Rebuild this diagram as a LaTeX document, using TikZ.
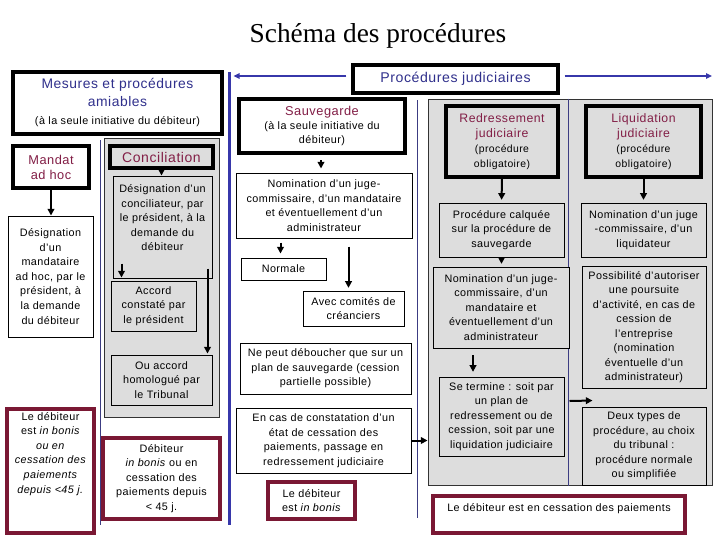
\documentclass[tikz,border=0pt]{standalone}
\usepackage{fontspec}
\setmainfont{Liberation Sans}[LetterSpace=4]
\newfontfamily\ttlfont{Liberation Serif}
\usetikzlibrary{arrows.meta,calc}
\definecolor{tblue}{RGB}{48,48,140}
\definecolor{lblue}{RGB}{55,55,170}
\definecolor{mar}{RGB}{122,24,52}
\definecolor{martxt}{RGB}{130,30,70}
\definecolor{gfill}{RGB}{221,221,221}
\definecolor{navy}{RGB}{60,60,130}
\newcommand\bxnode[7]{\node[#1, minimum width={(#5-#3)*0.75pt}, minimum height={(#6-#4)*0.75pt}] (#2) at ({(#3+#5)/2},{(#4+#6)/2}) {#7};}
\newcommand\mtt{\fontsize{9.6}{11}\selectfont\color{martxt}}
\newcommand\rtt{\fontsize{9.2}{11}\selectfont\color{martxt}}
\newcommand\stt{\fontsize{7.8}{11}\selectfont}
\newcommand\btt{\fontsize{10.4}{13.5}\selectfont\color{tblue}}
\tikzset{
 base/.style={align=center, inner sep=0pt, font=\fontsize{8.1}{10.9}\selectfont},
 thinbox/.style={base, draw, line width=0.75pt},
 grbox/.style={thinbox, fill=gfill},
 thickbox/.style={base, draw, line width=2.6pt, fill=white},
 thickgr/.style={thickbox, fill=gfill},
 mbox/.style={base, draw=mar, line width=2.8pt, fill=white},
 region/.style={draw=black!80, line width=0.75pt, fill=gfill},
 arr/.style={-{Triangle[length=5pt,width=5pt]}, line width=1.5pt},
 barr/.style={-{Triangle[length=4.5pt,width=4pt]}, line width=1.1pt, draw=lblue, color=lblue},
 sepline/.style={draw=navy, line width=0.7pt},
}
\begin{document}
\begin{tikzpicture}[x=0.75pt,y=-0.75pt]
\useasboundingbox (0,0) rectangle (720,540);
% title
\node[inner sep=0pt] (title) at (378,36) {\ttlfont\fontsize{20.5}{24}\selectfont Schéma des procédures};
% ---------------- left part -----------------
\bxnode{thickbox, font=\fontsize{8.1}{13.5}\selectfont}{mes}{13}{72}{222}{134}{{\btt Mesures et procédures}\\{\btt amiables}\\(à la seule initiative du débiteur)}
\draw[sepline] (100,140) coordinate (s1a) -- (100,525) coordinate (s1b);
\bxnode{thickbox, font=\fontsize{8.1}{11.3}\selectfont}{mandat}{13}{146}{89}{188}{{\mtt Mandat}\\{\mtt ad hoc}}
\bxnode{thinbox}{des1}{8}{216}{93}{337}{Désignation\\d’un\\mandataire\\ad hoc, par le\\président, à\\la demande\\du débiteur}
\bxnode{mbox}{deb1}{7}{409}{94}{533}{}
\node[base, anchor=north] (deb1t) at ($(deb1.north)+(0,5)$) {Le débiteur\\est \textit{in bonis}\\\textit{ou en}\\\textit{cessation des}\\\textit{paiements}\\\textit{depuis <45 j.}};
% conciliation
\bxnode{region}{concreg}{104}{138}{219}{417}{}
\bxnode{thickgr}{concil}{110}{146}{213}{168}{\fontsize{10.5}{12}\selectfont\color{martxt}Conciliation}
\bxnode{grbox}{desigc}{113}{176}{212}{278}{Désignation d’un\\conciliateur, par\\le président, à la\\demande du\\débiteur\\[3pt]}
\bxnode{grbox}{accord}{111}{281}{196}{331}{Accord\\constaté par\\le président}
\bxnode{grbox}{ouacc}{111}{355}{212}{405}{Ou accord\\homologué par\\le Tribunal}
\bxnode{mbox}{deb2}{103}{438}{220}{519}{Débiteur\\\textit{in bonis} ou en\\cessation des\\paiements depuis\\< 45 j.}
\draw[arr] (concil.south) -- (concil.south |- desigc.north);
\draw[arr] ($(accord.north west)+(11,-17)$) -- ($(accord.north west)+(11,-3)$);
\draw[arr] ($(ouacc.north east)+(-5,-86)$) -- ($(ouacc.north east)+(-5,-1)$);
\draw[arr] (mandat.south) -- (mandat.south |- des1.north);
% ---------------- blue axis -----------------
\draw[lblue, line width=2.4pt] (229.5,72) coordinate (bltop) -- (229.5,525) coordinate (blbot);
\bxnode{thickbox}{proc}{353}{65}{558}{93}{\fontsize{10.6}{12}\selectfont\color{tblue}Procédures judiciaires}
\coordinate (rarr) at (712,76);
\draw[barr] ($(proc.west)+(-5,-3)$) -- ($(proc.west -| bltop)+(4,-3)$);
\draw[barr] ($(proc.east)+(5,-3)$) -- (rarr);
% ---------------- sauvegarde -----------------
\bxnode{thickbox, font=\fontsize{8.1}{10.6}\selectfont}{sauv}{239}{99}{405}{153}{{\mtt Sauvegarde}\\(à la seule initiative du\\débiteur)}
\bxnode{thinbox}{nomS}{236}{173}{412}{238}{Nomination d’un juge-\\commissaire, d’un mandataire\\et éventuellement d’un\\administrateur}
\bxnode{thinbox}{normale}{241}{258}{326}{280}{Normale}
\bxnode{thinbox}{avec}{303}{291}{404}{326}{Avec comités de\\créanciers}
\bxnode{thinbox}{nepeut}{240}{343}{411}{394}{Ne peut déboucher que sur un\\plan de sauvegarde (cession\\partielle possible)}
\bxnode{thinbox}{encas}{236}{408}{411}{473}{En cas de constatation d’un\\état de cessation des\\paiements, passage en\\redressement judiciaire}
\bxnode{mbox}{deb3}{268}{482}{355}{519}{Le débiteur\\est \textit{in bonis}}
\draw[sepline] (417,100) coordinate (s2a) -- (417,518) coordinate (s2b);
\draw[arr, shorten <=4pt, shorten >=3pt] ($(sauv.south)+(-1,0)$) -- ($(sauv.south |- nomS.north)+(-1,0)$);
\draw[arr, shorten <=3pt, shorten >=3pt] ($(normale.north |- nomS.south)+(-3,0)$) -- ($(normale.north)+(-3,0)$);
\draw[arr, shorten <=6pt, shorten >=2pt] ($(avec.north |- nomS.south)+(-5,0)$) -- ($(avec.north)+(-5,0)$);
% ---------------- judiciaire region -----------------
\bxnode{region}{judreg}{428}{99}{712}{485}{}
\draw[sepline] (judreg.north) ++(-2,0) coordinate (s3a) -- (s3a |- judreg.south) coordinate (s3b);
\draw[arr] (encas.east) -- (encas.east -| judreg.west);
\bxnode{thickgr, font=\fontsize{8.1}{11.4}\selectfont}{redr}{446}{106}{558}{177}{{\rtt Redressement}\\{\rtt judiciaire}\\{\stt (procédure}\\{\stt obligatoire)}}
\bxnode{thickgr, font=\fontsize{8.1}{11.4}\selectfont}{liq}{586}{106}{701}{177}{{\rtt Liquidation}\\{\rtt judiciaire}\\{\stt (procédure}\\{\stt obligatoire)}}
\bxnode{grbox}{calq}{439}{203}{564}{257}{Procédure calquée\\sur la procédure de\\sauvegarde}
\bxnode{grbox}{nomL}{581}{203}{706}{257}{Nomination d’un juge\\-commissaire, d’un\\liquidateur}
\bxnode{grbox}{nomR}{433}{267}{569}{348}{Nomination d’un juge-\\commissaire, d’un\\mandataire et\\éventuellement d’un\\administrateur}
\bxnode{grbox}{seterm}{439}{377}{564}{456}{Se termine : soit par\\un plan de\\redressement ou de\\cession, soit par une\\liquidation judiciaire}
\bxnode{grbox}{poss}{582}{266}{706}{388}{Possibilité d’autoriser\\une poursuite\\d’activité, en cas de\\cession de\\l’entreprise\\(nomination\\éventuelle d’un\\administrateur)}
\bxnode{grbox}{deux}{582}{407}{706}{485}{Deux types de\\procédure, au choix\\du tribunal :\\procédure normale\\ou simplifiée}
\draw[arr, shorten >=2pt] (redr.south) -- (calq.north);
\draw[arr, shorten >=2pt] (liq.south) -- (liq.south |- nomL.north);
\draw[arr, shorten >=2pt] (calq.south) -- (calq.south |- nomR.north);
\draw[arr, shorten <=5pt, shorten >=3.5pt] ($(nomR.south)+(-28,0)$) -- ($(seterm.north)+(-28.5,0)$);
\draw[arr] ($(seterm.east)+(5,-15.5)$) -- ($(deux.north west)+(11,-6)$);
\bxnode{mbox}{deb4}{433}{496}{685}{533}{}
\node[base, anchor=north] (deb4t) at ($(deb4.north)+(0,9)$) {Le débiteur est en cessation des paiements};
\end{tikzpicture}
\end{document}
